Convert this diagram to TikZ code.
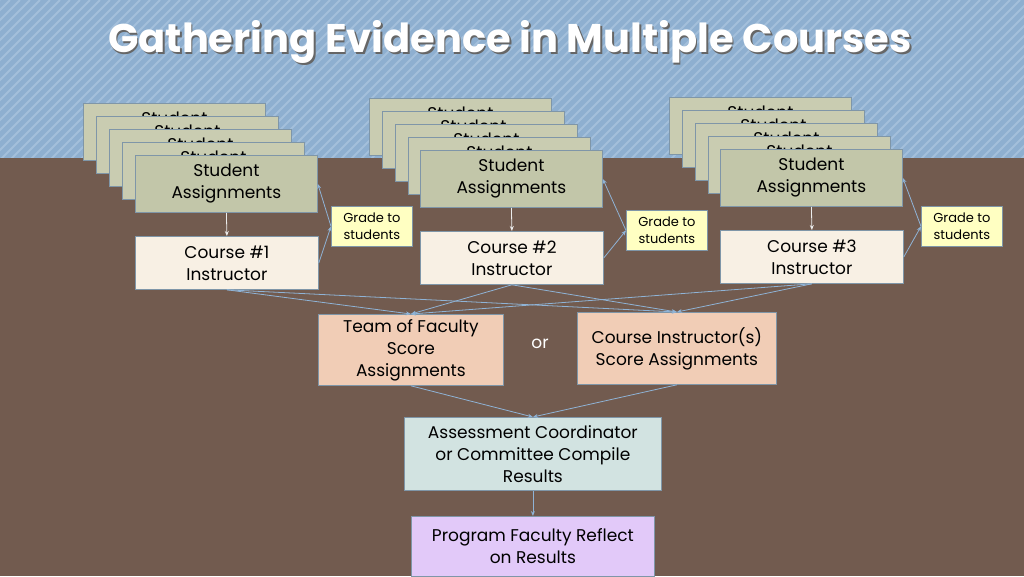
\documentclass[tikz,border=0pt]{standalone}
\usepackage{fontspec}
\setmainfont{Poppins}
\usetikzlibrary{arrows.meta}
\definecolor{brownbg}{HTML}{725B4F}
\definecolor{bluebg}{HTML}{8EAFD0}
\definecolor{hatch}{HTML}{A3BFDB}
\definecolor{card}{HTML}{C9CCB1}
\definecolor{cardf}{HTML}{C2C6A9}
\definecolor{edge}{HTML}{7F96A8}
\definecolor{course}{HTML}{F8F0E4}
\definecolor{grade}{HTML}{FFFFC2}
\definecolor{team}{HTML}{F1CDB6}
\definecolor{assess}{HTML}{D2E3E1}
\definecolor{prog}{HTML}{E2C9F9}
\definecolor{arr}{HTML}{8FB3D6}
\tikzset{
 box/.style={draw=edge,line width=0.8pt,inner sep=0pt,align=center,text=black,font=\fontsize{17}{22}\selectfont},
 cardbox/.style={box,fill=card,minimum width=182pt,minimum height=57pt},
 frontcard/.style={box,fill=cardf,minimum width=182pt,minimum height=57pt},
 coursebox/.style={box,fill=course,minimum width=183pt,minimum height=53pt},
 gradebox/.style={box,fill=grade,minimum width=81pt,minimum height=40pt,font=\fontsize{13}{17}\selectfont},
 conn/.style={draw=arr,line width=0.8pt,-{Stealth[length=5pt,width=4pt]}},
 wconn/.style={draw=white!85!gray,line width=0.8pt,-{Stealth[length=5pt,width=4pt]}}
}
\begin{document}
\begin{tikzpicture}[x=1pt,y=-1pt]
\useasboundingbox (0,0) rectangle (1024,576);
\fill[bluebg] (0,0) rectangle (1024,158);
\begin{scope}
\clip (0,0) rectangle (1024,158);
\foreach \i in {-200,-190,...,1040} \draw[hatch,line width=2pt] (\i,160) -- (\i+160,0);
\end{scope}
\fill[brownbg] (0,158) rectangle (1024,576);
\node[text=black!60,font=\bfseries\fontsize{40}{46}\selectfont] at (511.5,44) {Gathering Evidence in Multiple Courses};
\node[text=white,font=\bfseries\fontsize{40}{46}\selectfont] (title) at (510,42) {Gathering Evidence in Multiple Courses};
% stacks
\foreach \n/\x/\y in {1/83/103,2/369/98,3/669/97}{
 \foreach \k in {0,1,2,3}{
  \node[cardbox,anchor=north west] (c\n\k) at (\x+13*\k,\y+13*\k) {Student\\Assignments};
 }
}
\node[frontcard,anchor=north west] (s1) at (135,155) {Student\\Assignments};
\node[frontcard,anchor=north west] (s2) at (420,150) {Student\\Assignments};
\node[frontcard,anchor=north west] (s3) at (720,149) {Student\\Assignments};
\node[coursebox,anchor=north west] (i1) at (135,236) {Course \#1\\Instructor};
\node[coursebox,anchor=north west] (i2) at (420,231) {Course \#2\\Instructor};
\node[coursebox,anchor=north west] (i3) at (720,230) {Course \#3\\Instructor};
\node[gradebox,anchor=north west] (g1) at (331,206) {Grade to\\students};
\node[gradebox,anchor=north west] (g2) at (626,210) {Grade to\\students};
\node[gradebox,anchor=north west] (g3) at (921,206) {Grade to\\students};
\node[box,fill=team,minimum width=185pt,minimum height=71pt,anchor=north west] (team) at (318,314) {Team of Faculty\\Score\\Assignments};
\node[box,fill=team,minimum width=199pt,minimum height=72pt,anchor=north west] (ci) at (577,312) {Course Instructor(s)\\Score Assignments};
\node[text=white,font=\fontsize{17}{20}\selectfont] (or) at (540,344) {or};
\node[box,fill=assess,minimum width=257pt,minimum height=73pt,anchor=north west] (as) at (404,417) {Assessment Coordinator\\or Committee Compile\\Results};
\node[box,fill=prog,minimum width=243pt,minimum height=60pt,anchor=north west] (pf) at (411,516) {Program Faculty Reflect\\on Results};
% connectors
\foreach \n in {1,2,3}{
 \draw[wconn] (s\n.south) -- (i\n.north);
 \draw[conn] (i\n.east) -- (g\n.west);
 \draw[conn] (g\n.west) -- (s\n.east);
 \draw[conn] (i\n.south) -- (team.north);
 \draw[conn] (i\n.south) -- (ci.north);
}
\draw[conn] (team.south) -- (as.north);
\draw[conn] (ci.south) -- (as.north);
\draw[conn] (as.south) -- (pf.north);
\end{tikzpicture}
\end{document}
